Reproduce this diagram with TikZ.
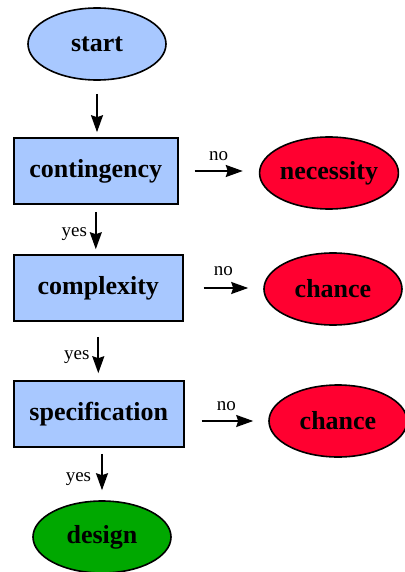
\documentclass[tikz,border=0pt]{standalone}
\usepackage{fontspec}
\setmainfont{Liberation Serif}
\usetikzlibrary{shapes.geometric,arrows.meta}
\definecolor{stepblue}{HTML}{A8C8FF}
\definecolor{endred}{HTML}{FF0030}
\definecolor{endgreen}{HTML}{00A800}
\begin{document}
\begin{tikzpicture}
[x=1pt,y=-1pt,
 test/.style={draw,line width=1.6pt,fill=stepblue,anchor=west,
              minimum height=66pt,inner sep=0pt,
              font=\fontsize{26}{28}\selectfont\bfseries},
 oval/.style={ellipse,draw,line width=1.6pt,minimum width=138pt,
              minimum height=72pt,inner sep=0pt,
              font=\fontsize{26}{28}\selectfont\bfseries},
 flow/.style={line width=1.8pt,-{Stealth[length=17pt,width=12pt,inset=2pt]}},
 answer/.style={font=\fontsize{19}{21}\selectfont}]
\useasboundingbox (0,0) rectangle (404,572);
% main line
\node[oval,fill=stepblue] (start) at (97,44) {start};
\node[test,minimum width=164pt] (contingency) at (13,171) {contingency};
\node[test,minimum width=169pt] (complexity) at (13,288) {complexity};
\node[test,minimum width=170pt] (specification) at (13,414) {specification};
\node[oval,fill=endgreen] (design) at (102,537) {design};
% side exits
\node[oval,fill=endred] (necessity) at (329,173) {necessity};
\node[oval,fill=endred] (chance1) at (333,289) {chance};
\node[oval,fill=endred] (chance2) at (338,421) {chance};
% arrows
\draw[flow,shorten <=13pt,shorten >=5pt]
  (start.south) -- (start.south |- contingency.north);
\draw[flow,shorten <=7pt,shorten >=5pt]
  (contingency.south) -- (contingency.south |- complexity.north)
  node[midway,left,answer,inner sep=8pt,yshift=-5pt] {yes};
\draw[flow,shorten <=15pt,shorten >=7pt]
  (complexity.south) -- (complexity.south |- specification.north)
  node[midway,left,answer,inner sep=8pt,yshift=-6pt] {yes};
\draw[flow,shorten <=6pt,shorten >=10pt]
  (design.north |- specification.south) -- (design.north)
  node[midway,left,answer,inner sep=10pt,yshift=-5pt] {yes};
\draw[flow,shorten <=16pt,shorten >=16pt]
  (contingency.east) -- (contingency.east -| necessity.west)
  node[midway,above,answer,inner sep=9pt] {no};
\draw[flow,shorten <=20pt,shorten >=15pt]
  (complexity.east) -- (complexity.east -| chance1.west)
  node[midway,above,answer,inner sep=9pt,yshift=2pt] {no};
\draw[flow,shorten <=17pt,shorten >=15pt]
  (specification.east |- chance2.west) -- (chance2.west)
  node[midway,above,answer,inner sep=9pt] {no};
\end{tikzpicture}
\end{document}
